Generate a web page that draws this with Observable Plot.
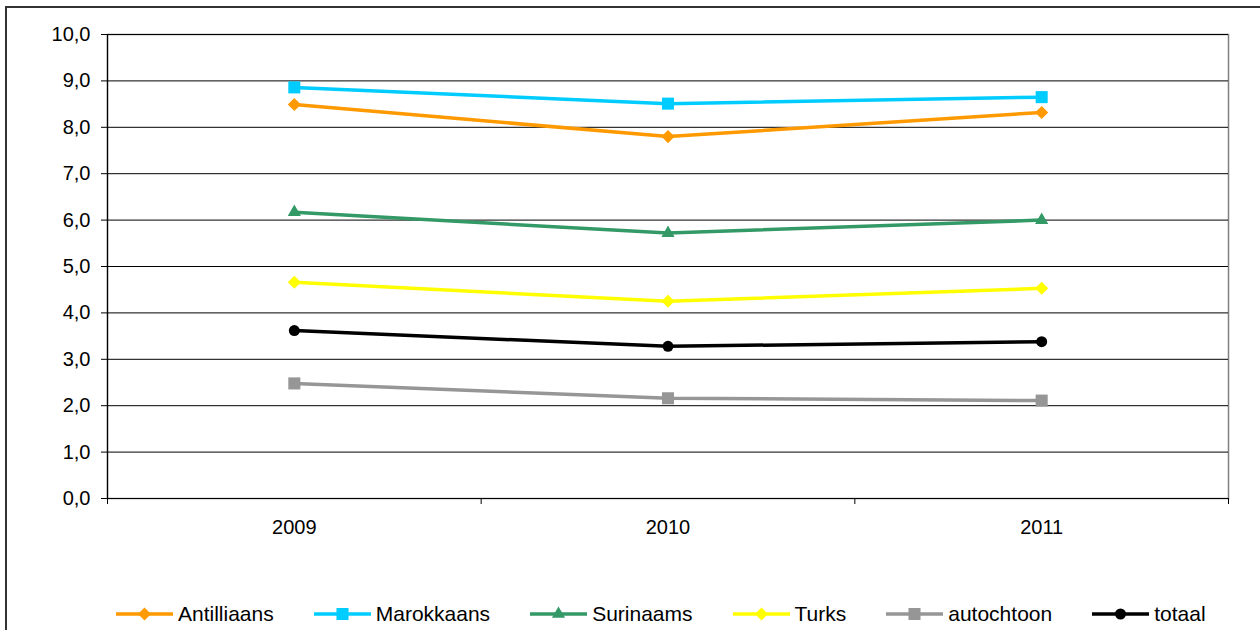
<!DOCTYPE html>
<html><head><meta charset="utf-8">
<script src="https://cdn.jsdelivr.net/npm/d3@7"></script>
<script src="https://cdn.jsdelivr.net/npm/@observablehq/plot@0.6"></script>
<style>
html,body{margin:0;padding:0;background:#fff;}
#wrap{position:relative;width:1260px;height:630px;overflow:hidden;font-family:"Liberation Sans",Arial,sans-serif;}
#border{position:absolute;left:5px;top:6px;width:1300px;height:700px;border:2px solid #333;box-sizing:border-box;}
#chart{position:absolute;left:0;top:0;}
#legend{position:absolute;left:116px;top:602px;display:flex;gap:40px;align-items:center;font-size:21px;color:#000;}
.item{display:flex;align-items:center;gap:5px;height:24px;line-height:24px;}
.item svg{display:block;}
</style></head><body>
<div id="wrap"><div id="border"></div><div id="chart"></div><div id="legend"></div></div>
<script>
const years = [2009, 2010, 2011];
const seriesNames = ["Antilliaans", "Marokkaans", "Surinaams", "Turks", "autochtoon", "totaal"];
const antilliaans = [8.49, 7.80, 8.32];
const marokkaans = [8.86, 8.51, 8.65];
const surinaams = [6.17, 5.72, 6.00];
const turks = [4.66, 4.25, 4.53];
const autochtoon = [2.48, 2.16, 2.11];
const totaal = [3.62, 3.28, 3.38];
const yTicks = [0, 1, 2, 3, 4, 5, 6, 7, 8, 9, 10];

const seriesValues = [antilliaans, marokkaans, surinaams, turks, autochtoon, totaal];
const colors = ["#FF9900", "#00CCFF", "#339966", "#FFFF00", "#969696", "#000000"];
const symbols = ["diamond2", "square", "triangle", "diamond2", "square", "circle"];
const radii = [5.9, 6.8, 4.9, 5.9, 6.8, 5.5];
const d3Symbols = {diamond2: d3.symbolDiamond2, square: d3.symbolSquare, triangle: d3.symbolTriangle, circle: d3.symbolCircle};

const data = seriesNames.map((name, i) => years.map((year, j) => ({serie: name, year, value: seriesValues[i][j]})));

const xMin = d3.min(years) - 0.5, xMax = d3.max(years) + 0.5;
const boundaries = [...years.map(y => y - 0.5), xMax];

const marks = [
  Plot.frame({stroke: "#808080", strokeWidth: 1.5}),
  Plot.ruleY(yTicks, {stroke: "#000", strokeWidth: 1}),
  Plot.ruleX([xMin], {stroke: "#000", strokeWidth: 1.2}),
  Plot.axisY({ticks: yTicks, tickSize: 6, tickPadding: 11, tickFormat: d => d.toFixed(1).replace(".", ","), stroke: "#000", fill: "#000", fontSize: 20, label: null}),
  Plot.axisX({ticks: boundaries, tickSize: 6, tickFormat: () => "", stroke: "#000", label: null}),
  Plot.axisX({ticks: years, tickSize: 0, tickPadding: 21, tickFormat: d => String(d), fill: "#000", fontSize: 20, label: null})
];
data.forEach((rows, i) => {
  marks.push(Plot.line(rows, {x: "year", y: "value", stroke: colors[i], strokeWidth: 3.5}));
  marks.push(Plot.dot(rows, {x: "year", y: "value", symbol: () => symbols[i], r: radii[i], fill: colors[i], stroke: "none"}));
});

const chart = Plot.plot({
  width: 1260,
  height: 630,
  marginLeft: 107,
  marginRight: 32,
  marginTop: 34,
  marginBottom: 132,
  style: {fontFamily: "'Liberation Sans', Arial, sans-serif", fontSize: "20px", background: "transparent", overflow: "visible"},
  x: {type: "linear", domain: [xMin, xMax], label: null},
  y: {domain: [0, 10], label: null},
  symbol: {type: "identity"},
  marks
});
document.getElementById("chart").appendChild(chart);

const legend = d3.select("#legend");
seriesNames.forEach((name, i) => {
  const item = legend.append("div").attr("class", "item");
  const svg = item.append("svg").attr("width", 57).attr("height", 20);
  svg.append("line").attr("x1", 0).attr("x2", 57).attr("y1", 10).attr("y2", 10)
    .attr("stroke", colors[i]).attr("stroke-width", 3.5);
  svg.append("path").attr("transform", "translate(28.5,10)")
    .attr("d", d3.symbol(d3Symbols[symbols[i]], Math.PI * radii[i] * radii[i])())
    .attr("fill", colors[i]);
  item.append("span").text(name);
});
</script>
</body></html>
